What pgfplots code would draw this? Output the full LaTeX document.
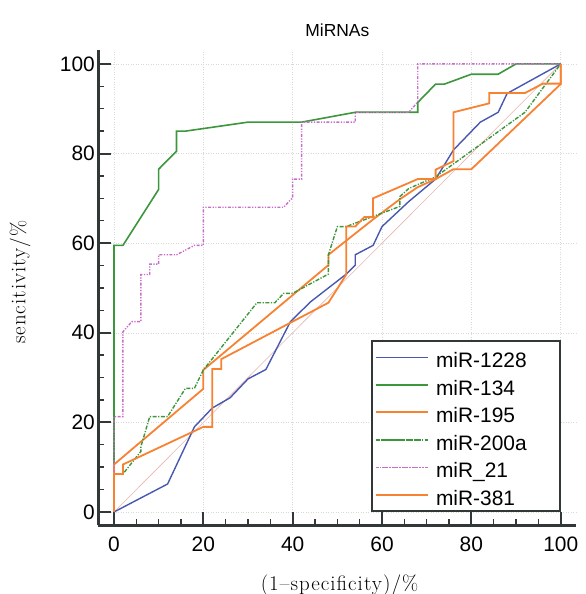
\documentclass[border=0pt]{standalone}
\usepackage{fontspec}
\setmainfont{Latin Modern Roman}
\newfontfamily\arial{Liberation Sans}
\usepackage{pgfplots}
\pgfplotsset{compat=1.18}
\definecolor{cblue}{RGB}{72,88,176}
\definecolor{cgreen}{RGB}{60,150,60}
\definecolor{corange}{RGB}{247,130,50}
\definecolor{cmag}{RGB}{200,110,200}
\definecolor{cdiag}{RGB}{232,180,175}
\definecolor{caxis}{RGB}{50,55,55}
\begin{document}
\begin{tikzpicture}
\begin{axis}[
  scale only axis, width=478bp, height=475bp,
  xmin=-3.5, xmax=103.5, ymin=-3, ymax=103,
  axis lines*=left,
  axis line style={caxis, line width=2.5bp},
  xtick={0,20,...,100}, ytick={0,20,...,100},
  minor tick num=3,
  tick align=inside,
  major tick length=13bp, minor tick length=6bp,
  tick style={caxis, line width=2bp},
  minor tick style={line width=1.4bp},
  grid=major,
  major grid style={gray!30, line width=0.5bp, dash pattern=on 1bp off 1.5bp},
  ticklabel style={font=\arial\fontsize{21}{25}\selectfont},
  xticklabel style={yshift=-8bp},
  /pgf/number format/assume math mode=true,
  clip=false,
  legend cell align=left,
  legend style={at={(axis cs:100,0)}, anchor=south east, draw=caxis, line width=1.8bp,
    font=\arial\fontsize{21}{25}\selectfont, inner sep=2.5bp,
    nodes={text height=23.2bp, text depth=2.3bp, inner ysep=1bp, inner xsep=7bp}},
  legend image code/.code={\path (-6.6bp,0bp) -- (46bp,0bp);\draw[#1, line width=1.3bp] (0bp,0bp) -- (39bp,0bp);},
]
\addplot[cdiag, line width=0.6bp, forget plot] coordinates {(0,0) (100,100)};

\addplot[cblue, line width=1.4bp] coordinates {
(0,0) (12,6.25) (18,19) (22,23.2) (26,25.5) (30,29.7) (34,31.8) (39.5,42.5) (44,46.9)
(52,53.1) (54,55.1) (54,57.4) (58,59.5) (60,63.7) (66,69.3) (72,74.3) (76,80.8)
(82,87) (86,89.2) (88,93.4) (100,100)};
\addlegendentry{\makebox[114.3bp][l]{miR-1228}}

\addplot[cgreen, line width=1.6bp] coordinates {
(0,0) (0,59.5) (2,59.5) (10,72) (10,76.5) (14,80.5) (14,85) (16,85) (30,87) (42,87)
(54,89.2) (68,89.2) (68,91.4) (72,95.5) (74,95.5) (80,97.7) (86,97.7) (90,100) (100,100)};
\addlegendentry{miR-134}

\addplot[corange, line width=1.8bp] coordinates {
(0,0) (0,10.6) (20,27.5) (20,31.7) (48,55.1) (48,57.4) (58,65.3) (64,69.8) (68,72.5)
(72,74.3) (76,76.5) (80,76.5) (100,95.5) (100,100)};
\addlegendentry{miR-195}

\addplot[cgreen, line width=1.4bp, dash pattern=on 4bp off 1.5bp on 1.2bp off 1.5bp] coordinates {
(0,0) (0,8.5) (2,8.5) (6,13.5) (6,14.5) (8,21.3) (12,21.3) (16,27.6) (18,27.6) (20,31.7)
(32,46.7) (36,46.7) (38,48.8) (40,48.8) (48,53.1) (48,57.4) (50,63.7) (52,63.7) (64,68.2)
(64,70.4) (66,72.2) (72,74.8) (92,89.2) (100,100)};
\addlegendentry{miR-200a}

\addplot[cmag, line width=1.4bp, dash pattern=on 3bp off 1.5bp on 1.2bp off 1.5bp on 1.2bp off 1.5bp] coordinates {
(0,0) (0,21.3) (2,21.3) (2,40.2) (4,42.5) (6,42.5) (6,53) (8,53) (8,55.3) (10,55.3)
(10,57.4) (14,57.4) (18,59.5) (20,59.5) (20,68) (38,68) (40,70.2) (40,74.3) (42,74.3)
(42,87) (54,87) (54,89.2) (66,89.2) (68,91.5) (68,100) (100,100)};
\addlegendentry{miR\_21}

\addplot[corange, line width=1.8bp] coordinates {
(0,0) (0,8.5) (2,8.5) (2,10.6) (20,19) (22,19) (22,31.9) (24,31.9) (24,34.1) (48,46.7)
(52,53) (52,63.7) (54,63.7) (56,65.8) (58,65.8) (58,70) (68,74.3) (72,74.3) (72,76.4)
(76,78.3) (76,89.2) (84,91.2) (84,93.5) (92,93.5) (96,95.6) (100,95.6) (100,100)};
\addlegendentry{miR-381}

\node[font=\arial\fontsize{17.5}{21}\selectfont] at (axis cs:50,107.6) {MiRNAs};
\node[font=\fontsize{21}{25}\selectfont\addfontfeatures{LetterSpace=5}, rotate=90] at (axis cs:-21,51.3) {sencitivity/\%};
\node[font=\fontsize{21}{25}\selectfont\addfontfeatures{LetterSpace=5}] at (axis cs:50.5,-16.3) {(1–specificity)/\%};

\coordinate (tl) at (axis cs:-25.52,114.26);
\coordinate (br) at (axis cs:105.44,-18.30);
\end{axis}
\pgfresetboundingbox
\path[use as bounding box] (tl) rectangle (br);
\end{tikzpicture}
\end{document}
